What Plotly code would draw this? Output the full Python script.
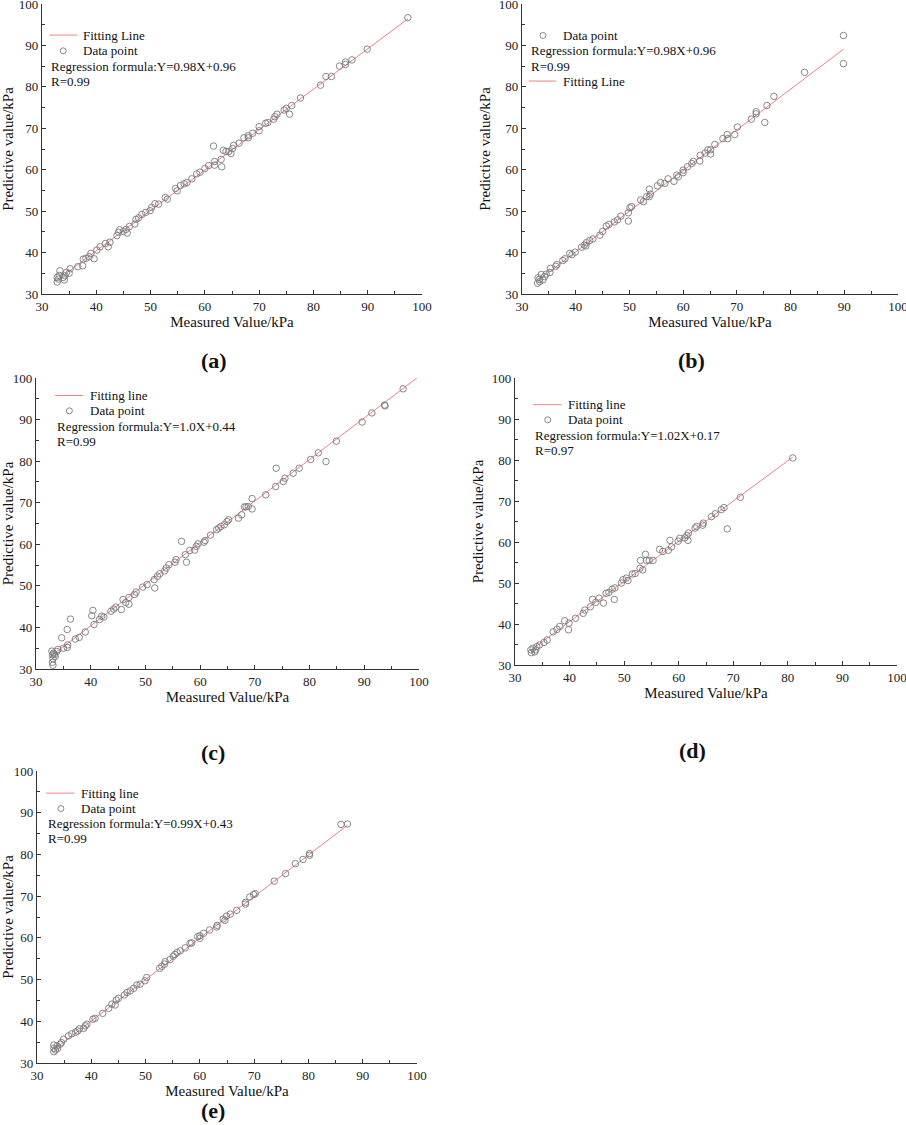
import plotly.graph_objects as go

# ---- data (measured, predicted) ----
# (a)
a_meas = [97.4, 89.9, 84.8, 85.9, 85.9, 87.1, 82.3, 83.3, 81.3, 77.6, 76.0, 75.6, 75.0, 74.6,
          73.3, 72.9, 72.7, 71.2, 71.6, 70.0, 70.0, 68.8, 68.0, 68.0, 67.2, 66.3, 65.3, 65.1,
          64.8, 64.4, 63.9, 63.4, 63.0, 63.1, 61.6, 61.8, 61.8, 60.7, 60.0, 59.1, 58.5, 57.6,
          56.7, 56.2, 55.5, 54.6, 54.9, 53.1, 52.7, 51.5, 50.8, 50.2, 49.9, 49.1, 48.4, 47.8,
          47.3, 47.1, 46.1, 45.7, 45.5, 45.0, 44.1, 44.3, 43.8, 42.5, 41.7, 42.2, 40.7, 40.1,
          39.6, 39.0, 38.7, 38.1, 37.6, 37.5, 36.6, 35.2, 34.5, 34.2, 33.3, 33.2, 33.0, 32.8,
          32.8, 34.1, 33.9, 35.0]
a_pred = [96.7, 89.1, 85.0, 86.0, 85.4, 86.5, 82.5, 82.5, 80.4, 77.3, 75.5, 73.4, 74.8, 74.4,
          73.4, 72.8, 72.2, 71.2, 71.4, 70.4, 69.4, 68.8, 68.2, 67.7, 67.7, 66.4, 65.9, 65.1,
          63.9, 64.4, 64.4, 64.7, 62.5, 60.7, 65.7, 62.0, 61.1, 61.0, 60.3, 59.4, 59.0, 57.8,
          56.9, 56.6, 56.2, 55.5, 54.9, 52.9, 53.3, 51.7, 51.8, 50.9, 50.1, 49.7, 49.2, 48.4,
          48.0, 46.9, 46.3, 44.7, 45.6, 45.1, 44.9, 45.5, 44.1, 42.5, 42.2, 41.4, 41.4, 40.6,
          38.5, 39.8, 39.0, 38.6, 38.4, 36.8, 36.6, 36.1, 35.2, 34.4, 35.6, 34.5, 33.6, 32.9,
          34.0, 33.4, 34.0, 35.0]
a_fit_x = [32.8, 97.4]
a_fit_y = [33.4, 96.4]

# (b)
b_meas = [89.85, 89.85, 82.6, 76.9, 75.6, 75.2, 73.6, 73.6, 72.7, 70.1, 69.6, 68.2, 68.3, 67.4,
          65.9, 65.1, 65.1, 64.6, 64.1, 63.2, 63.1, 61.9, 61.6, 60.8, 60.0, 60.0, 59.1, 58.8,
          58.3, 57.2, 56.6, 55.8, 55.2, 53.7, 53.7, 53.9, 53.2, 52.6, 52.1, 50.4, 50.1, 49.8,
          49.8, 48.4, 47.8, 47.2, 46.2, 45.7, 45.0, 44.5, 43.2, 42.6, 42.0, 41.6, 41.9, 41.1,
          39.9, 39.3, 38.9, 38.0, 37.6, 36.5, 36.3, 35.3, 35.2, 34.5, 34.2, 33.6, 33.0, 33.3,
          32.9, 33.2, 33.9]
b_pred = [92.4, 85.6, 83.5, 77.7, 75.5, 71.4, 74.0, 73.5, 72.2, 70.3, 68.5, 68.5, 67.5, 67.5,
          66.1, 64.8, 63.8, 64.8, 64.0, 63.5, 62.1, 62.0, 61.5, 60.7, 59.9, 59.3, 58.3, 58.7,
          57.2, 57.8, 56.7, 56.9, 56.1, 55.3, 53.5, 54.1, 53.5, 52.3, 52.7, 51.1, 50.8, 49.6,
          47.6, 48.8, 47.9, 47.4, 46.8, 46.4, 45.1, 44.2, 43.3, 42.9, 42.4, 41.8, 41.6, 41.3,
          40.1, 39.5, 39.8, 38.5, 38.1, 37.1, 36.7, 36.2, 35.2, 34.8, 34.2, 34.7, 33.9, 33.0,
          32.6, 33.5, 33.4]
b_fit_x = [33.0, 89.85]
b_fit_y = [33.3, 89.1]

# (c)
c_meas = [97.1, 93.7, 93.8, 91.4, 89.6, 84.9, 81.6, 83.0, 80.2, 78.1, 77.0, 75.5, 75.2, 73.9,
          73.8, 72.0, 69.5, 69.5, 68.8, 68.4, 68.1, 67.6, 67.0, 65.2, 64.9, 64.4, 63.8, 63.4,
          63.0, 61.9, 60.9, 60.7, 59.6, 59.3, 59.0, 58.1, 57.3, 57.5, 56.6, 55.6, 55.4, 54.3,
          53.8, 53.5, 52.6, 52.2, 51.6, 51.7, 50.3, 49.5, 48.3, 48.0, 47.0, 47.0, 46.4, 45.9,
          45.6, 44.6, 44.2, 43.7, 42.4, 42.0, 41.6, 40.4, 40.2, 40.6, 39.0, 37.9, 37.2, 36.3,
          35.7, 34.7, 35.8, 35.7, 35.0, 34.0, 33.8, 33.2, 33.5, 33.1, 33.0, 33.1, 32.9, 33.0,
          33.4]
c_pred = [97.4, 93.5, 93.3, 91.6, 89.4, 84.8, 82.0, 79.9, 80.4, 78.3, 77.1, 75.9, 75.1, 78.3,
          73.9, 71.9, 71.0, 68.5, 69.1, 69.0, 69.0, 67.1, 66.3, 65.9, 65.5, 64.7, 64.3, 63.9,
          63.5, 62.2, 60.9, 60.5, 60.1, 59.5, 58.6, 58.5, 57.5, 55.7, 60.7, 56.3, 55.7, 55.1,
          54.3, 53.6, 52.9, 52.3, 51.5, 49.5, 50.3, 49.7, 48.5, 47.9, 47.2, 45.6, 46.0, 46.7,
          44.3, 44.9, 44.4, 43.9, 42.5, 42.7, 41.9, 44.1, 42.8, 40.7, 38.9, 37.6, 37.2, 42.0,
          39.5, 37.5, 35.8, 35.2, 35.0, 34.7, 34.2, 33.8, 33.0, 32.5, 31.6, 30.9, 34.3, 33.4,
          33.5]
c_fit_x = [33.0, 100.0]
c_fit_y = [33.4, 100.4]

# (d)
d_meas = [80.9, 71.3, 68.9, 68.3, 67.8, 66.7, 66.0, 64.5, 64.4, 63.3, 63.0, 61.8, 61.5, 61.7,
          61.1, 60.2, 59.9, 58.7, 58.4, 58.1, 57.1, 56.5, 55.3, 54.6, 53.9, 54.1, 53.0, 53.4,
          52.9, 52.0, 51.5, 50.7, 50.4, 49.8, 49.5, 48.3, 47.8, 48.2, 47.2, 46.7, 46.2, 45.4,
          44.2, 44.8, 43.8, 42.8, 42.5, 41.1, 39.9, 39.8, 39.1, 38.2, 37.7, 37.0, 35.9, 35.3,
          34.5, 34.0, 33.8, 33.3, 33.0, 32.9, 33.6]
d_pred = [80.5, 70.9, 63.2, 68.4, 67.9, 66.9, 66.2, 64.6, 64.1, 63.8, 63.4, 62.2, 61.6, 60.4,
          61.0, 60.9, 60.2, 58.8, 60.4, 58.0, 57.7, 58.2, 55.5, 55.5, 57.0, 55.5, 55.5, 53.2,
          53.6, 52.3, 52.2, 50.6, 51.2, 50.8, 50.0, 48.8, 48.5, 46.0, 47.7, 47.5, 45.1, 46.3,
          46.0, 45.3, 44.2, 43.4, 42.6, 41.4, 40.2, 38.6, 40.8, 39.4, 38.7, 38.1, 36.1, 35.5,
          34.9, 34.5, 33.7, 34.1, 33.0, 33.7, 33.2]
d_fit_x = [32.9, 80.9]
d_fit_y = [33.6, 80.7]

# (e)
e_meas = [87.2, 86.0, 80.2, 80.2, 79.0, 77.6, 75.8, 73.7, 70.2, 69.9, 69.2, 68.4, 68.4, 66.8,
          65.6, 64.9, 64.3, 64.6, 63.2, 63.1, 61.8, 60.7, 60.0, 60.0, 59.6, 58.5, 58.2, 57.3,
          56.4, 55.8, 55.4, 55.1, 54.5, 53.6, 53.5, 53.0, 52.6, 50.2, 49.9, 49.0, 48.4, 47.8,
          47.2, 46.6, 46.1, 45.0, 44.6, 44.4, 43.8, 43.2, 42.1, 40.7, 40.3, 39.2, 38.9, 38.6,
          37.8, 37.5, 37.1, 36.4, 35.8, 34.9, 34.5, 34.3, 33.7, 33.1, 33.1, 33.1, 33.4, 33.8]
e_pred = [87.3, 87.2, 80.2, 79.8, 78.8, 77.8, 75.4, 73.6, 70.6, 70.4, 69.8, 68.5, 68.1, 66.6,
          65.7, 65.2, 64.5, 64.2, 63.0, 62.6, 61.9, 61.1, 60.5, 59.9, 60.3, 58.8, 58.7, 57.6,
          56.9, 56.5, 56.0, 55.6, 54.8, 54.3, 53.7, 53.2, 52.7, 50.5, 49.7, 48.9, 48.7, 47.9,
          47.3, 46.9, 46.3, 45.5, 45.1, 43.9, 44.1, 43.1, 41.9, 40.7, 40.5, 39.3, 38.9, 38.3,
          38.2, 37.7, 37.4, 37.0, 36.5, 35.7, 34.9, 34.5, 34.1, 34.3, 33.5, 32.7, 33.1, 33.5]
e_fit_x = [33.1, 87.2]
e_fit_y = [33.2, 87.0]

panel_tags = ["(a)", "(b)", "(c)", "(d)", "(e)"]
formulas = ["Regression formula:Y=0.98X+0.96", "Regression formula:Y=0.98X+0.96",
            "Regression formula:Y=1.0X+0.44", "Regression formula:Y=1.02X+0.17",
            "Regression formula:Y=0.99X+0.43"]
r_texts = ["R=0.99", "R=0.99", "R=0.99", "R=0.97", "R=0.99"]
fit_names = ["Fitting Line", "Fitting Line", "Fitting line", "Fitting line", "Fitting line"]

W, H = 906, 1125
FONT = "Liberation Serif, Times New Roman, serif"
LINE_COL = "#f08080"
PT_COL = "#7a7a7a"

# plot area boxes in pixels: (left, right, top, bottom)
boxes = [(42, 422, 4, 294), (522, 898, 4, 294), (36, 419, 378, 669),
         (515, 897, 378, 665), (37, 417, 771, 1063)]
# panel tag positions (px)
tag_pos = [(214, 360), (691, 360), (213, 752), (692, 750), (213, 1110)]

# legend block positions in data units: line sample x0,x1,y ; marker x,y ; text x ; formula x,y ; R y
legends = [
    dict(lx=(31.35, 36.5), ly=92.5, mx=33.9, my=88.7, tx=37.25, fx=31.35, fy=85.0, ry=81.4),
    dict(lx=(31.25, 36.4), ly=81.4, mx=33.9, my=92.4, tx=37.2, fx=31.25, fy=88.7, ry=85.0),
    dict(lx=(33.5, 38.6), ly=95.8, mx=36.1, my=92.1, tx=39.5, fx=33.5, fy=88.4, ry=84.8),
    dict(lx=(33.3, 38.5), ly=93.5, mx=36.0, my=89.8, tx=39.3, fx=33.3, fy=85.9, ry=82.3),
    dict(lx=(31.7, 36.9), ly=94.7, mx=34.4, my=91.0, tx=37.7, fx=31.7, fy=87.3, ry=83.7),
]

series = [(a_meas, a_pred, a_fit_x, a_fit_y), (b_meas, b_pred, b_fit_x, b_fit_y),
          (c_meas, c_pred, c_fit_x, c_fit_y), (d_meas, d_pred, d_fit_x, d_fit_y),
          (e_meas, e_pred, e_fit_x, e_fit_y)]

fig = go.Figure()
layout = dict(width=W, height=H, margin=dict(l=0, r=0, t=0, b=0),
              paper_bgcolor="white", plot_bgcolor="white", showlegend=False,
              font=dict(family=FONT, size=13, color="#111"))
annotations = []
shapes = []

for i, (mx_, py_, fx_, fy_) in enumerate(series):
    n = "" if i == 0 else str(i + 1)
    xa, ya = "x" + n, "y" + n
    l, r, t, b = boxes[i]

    fig.add_trace(go.Scatter(x=fx_, y=fy_, mode="lines", xaxis=xa, yaxis=ya,
                             line=dict(color=LINE_COL, width=1)))
    fig.add_trace(go.Scatter(x=mx_, y=py_, mode="markers", xaxis=xa, yaxis=ya,
                             marker=dict(symbol="circle-open", size=6.5,
                                         color=PT_COL, line=dict(width=0.9)),
                             cliponaxis=False))

    common = dict(range=[30, 100], dtick=10, showgrid=False, zeroline=False,
                  showline=True, linecolor="#333", linewidth=1.2, automargin=False,
                  ticks="inside", ticklen=4, tickcolor="#333", ticklabeloverflow="allow",
                  minor=dict(ticks="inside", ticklen=2.5, dtick=5, tickcolor="#333"),
                  tickfont=dict(family=FONT, size=13, color="#222"))
    layout["xaxis" + n] = dict(common, domain=[l / W, r / W], anchor=ya,
                               title=dict(text="Measured Value/kPa", standoff=0,
                                          font=dict(family=FONT, size=15, color="#111")))
    layout["yaxis" + n] = dict(common, domain=[1 - b / H, 1 - t / H], anchor=xa,
                               title=dict(text="Predictive value/kPa", standoff=4,
                                          font=dict(family=FONT, size=15, color="#111")))

    lg = legends[i]
    shapes.append(dict(type="line", xref=xa, yref=ya, x0=lg["lx"][0], x1=lg["lx"][1],
                       y0=lg["ly"], y1=lg["ly"], layer="above",
                       line=dict(color=LINE_COL, width=1)))
    shapes.append(dict(type="circle", xref=xa, yref=ya, xsizemode="pixel", ysizemode="pixel",
                       xanchor=lg["mx"], yanchor=lg["my"], x0=-3, x1=3, y0=-3, y1=3,
                       line=dict(color=PT_COL, width=0.9)))
    for txt, x, y in [(fit_names[i], lg["tx"], lg["ly"]), ("Data point", lg["tx"], lg["my"]),
                      (formulas[i], lg["fx"], lg["fy"]), (r_texts[i], lg["fx"], lg["ry"])]:
        annotations.append(dict(text=txt, xref=xa, yref=ya, x=x, y=y, showarrow=False,
                                xanchor="left", yanchor="middle",
                                font=dict(family=FONT, size=13, color="#111")))

    tx, ty = tag_pos[i]
    annotations.append(dict(text="<b>" + panel_tags[i] + "</b>", xref="paper", yref="paper",
                            x=tx / W, y=1 - ty / H, showarrow=False,
                            xanchor="center", yanchor="middle",
                            font=dict(family=FONT, size=22, color="#111")))

layout["annotations"] = annotations
layout["shapes"] = shapes
fig.update_layout(**layout)

# page body has a default 8px margin; drop it so the figure sits at the window corner
fig.write_html("out.html", config={"displayModeBar": False},
               post_script="document.body.style.margin='0px';")
